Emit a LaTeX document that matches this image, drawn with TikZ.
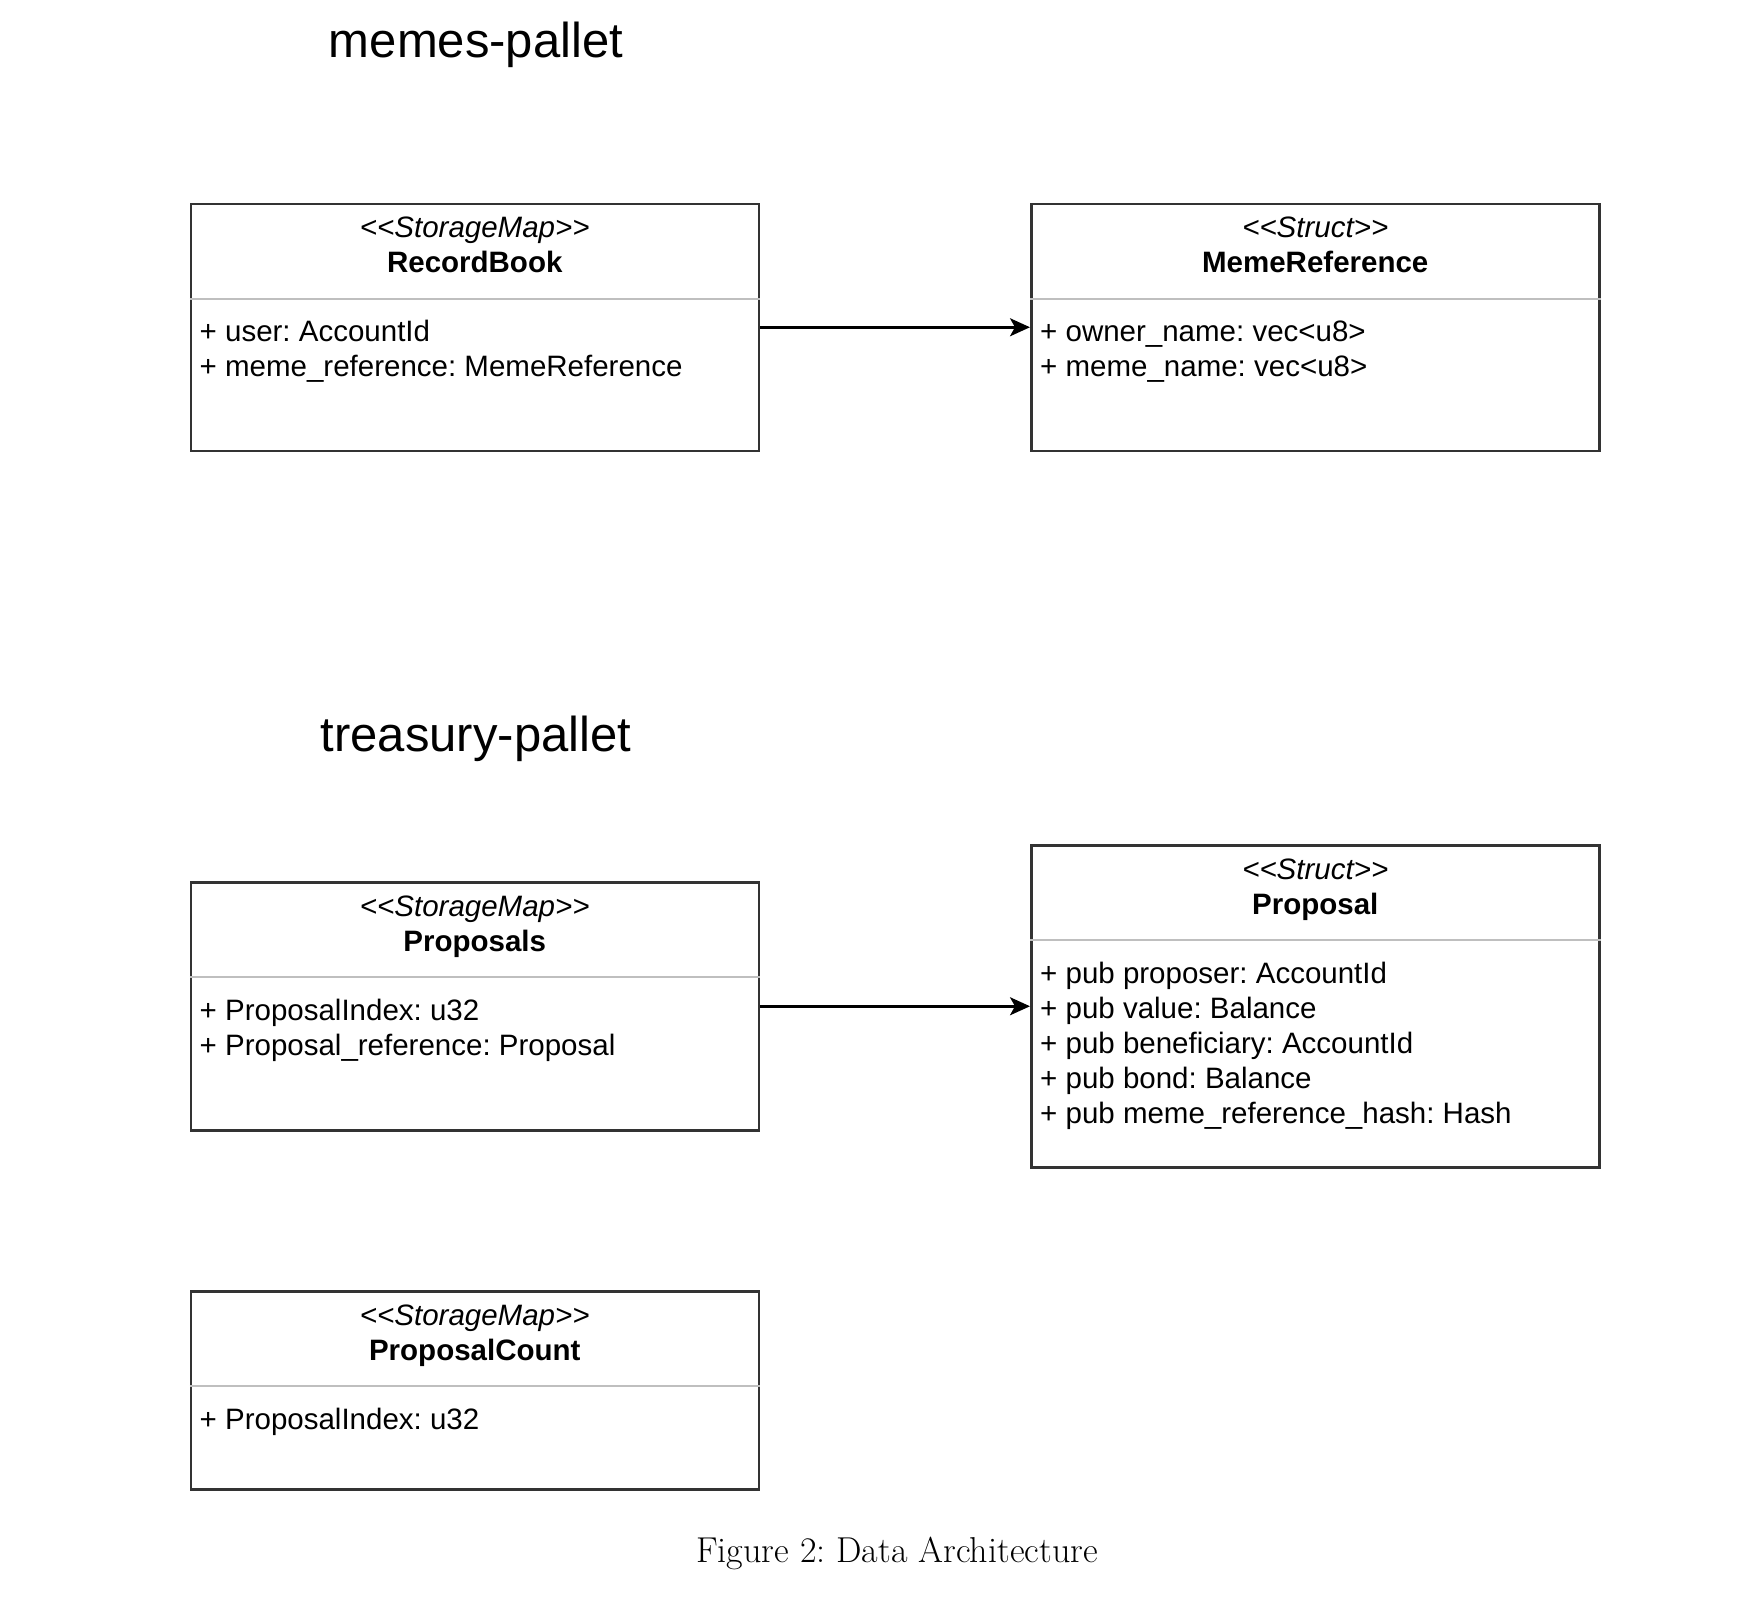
\documentclass[tikz,border=0pt]{standalone}
\usepackage{fontspec}
\newfontfamily\umlfont{Liberation Sans}
\usetikzlibrary{arrows.meta}
\frenchspacing

\begin{document}
\begin{tikzpicture}[x=1pt, y=-1pt, >={Stealth[length=20pt,width=18pt,inset=5pt]},
  umlbox/.style={draw=black!80, line width=2.5pt, minimum width=568pt, anchor=north west, inner sep=0pt},
  divider/.style={draw=black!25, line width=2pt},
  stereo/.style={font=\umlfont\itshape\fontsize{29.5}{35}\selectfont, anchor=base, inner sep=0pt},
  classname/.style={font=\umlfont\bfseries\fontsize{29.5}{35}\selectfont, anchor=base, inner sep=0pt},
  attr/.style={font=\umlfont\fontsize{29.5}{35}\selectfont, anchor=base west, inner sep=0pt},
  pallet/.style={font=\umlfont\fontsize{49}{58}\selectfont, anchor=base, inner sep=0pt},
  caption/.style={font=\fontsize{36}{42}\selectfont, anchor=base, inner sep=0pt}]
\useasboundingbox (0,0) rectangle (1758,1600);

% titles
\node[pallet] (memestitle) at (476,58) {memes-pallet};
\node[pallet] (treasurytitle) at (476,751) {treasury-pallet};

% memes-pallet
\node[umlbox, minimum height=247pt] (recordbook) at (189.5,202.5) {};
\node[umlbox, minimum height=247pt] (memeref) at (1030,202.5) {};

% treasury-pallet
\node[umlbox, minimum height=248pt] (proposals) at (189.5,881) {};
\node[umlbox, minimum height=322pt] (proposal) at (1030,844) {};
\node[umlbox, minimum height=198pt] (propcount) at (189.5,1290) {};

\foreach \b in {recordbook,memeref,proposals,proposal,propcount}
{
  \draw[divider] ([yshift=-96pt]\b.north west) -- ([yshift=-96pt]\b.north east);
}

\node[stereo] (rbstereo) at ([yshift=-35pt]recordbook.north) {<<StorageMap>>};
\node[classname] (rbname) at ([yshift=-70pt]recordbook.north) {RecordBook};
\foreach \t [count=\i] in {+ user: AccountId, + meme\_reference: MemeReference}
  \node[attr] (rbattr\i) at ([xshift=10pt, yshift={-104pt-35pt*\i}]recordbook.north west) {\t};

\node[stereo] (mrstereo) at ([yshift=-35pt]memeref.north) {<<Struct>>};
\node[classname] (mrname) at ([yshift=-70pt]memeref.north) {MemeReference};
\foreach \t [count=\i] in {+ owner\_name: vec<u8>, + meme\_name: vec<u8>}
  \node[attr] (mrattr\i) at ([xshift=10pt, yshift={-104pt-35pt*\i}]memeref.north west) {\t};

\node[stereo] (psstereo) at ([yshift=-35pt]proposals.north) {<<StorageMap>>};
\node[classname] (psname) at ([yshift=-70pt]proposals.north) {Proposals};
\foreach \t [count=\i] in {+ ProposalIndex: u32, + Proposal\_reference: Proposal}
  \node[attr] (psattr\i) at ([xshift=10pt, yshift={-104pt-35pt*\i}]proposals.north west) {\t};

\node[stereo] (pstereo) at ([yshift=-35pt]proposal.north) {<<Struct>>};
\node[classname] (pname) at ([yshift=-70pt]proposal.north) {Proposal};
\foreach \t [count=\i] in {+ pub proposer: AccountId, + pub value: Balance, + pub beneficiary: AccountId,
    + pub bond: Balance, + pub meme\_reference\_hash: Hash}
  \node[attr] (pattr\i) at ([xshift=10pt, yshift={-104pt-35pt*\i}]proposal.north west) {\t};

\node[stereo] (pcstereo) at ([yshift=-35pt]propcount.north) {<<StorageMap>>};
\node[classname] (pcname) at ([yshift=-70pt]propcount.north) {ProposalCount};
\node[attr] (pcattr1) at ([xshift=10pt, yshift=-139pt]propcount.north west) {+ ProposalIndex: u32};

% references
\draw[->, line width=2.5pt] (recordbook.east) -- (memeref.west);
\draw[->, line width=2.5pt] (proposals.east) -- (proposal.west);

\node[caption] (fig) at (897,1562) {Figure 2: Data Architecture};
\end{tikzpicture}
\end{document}
